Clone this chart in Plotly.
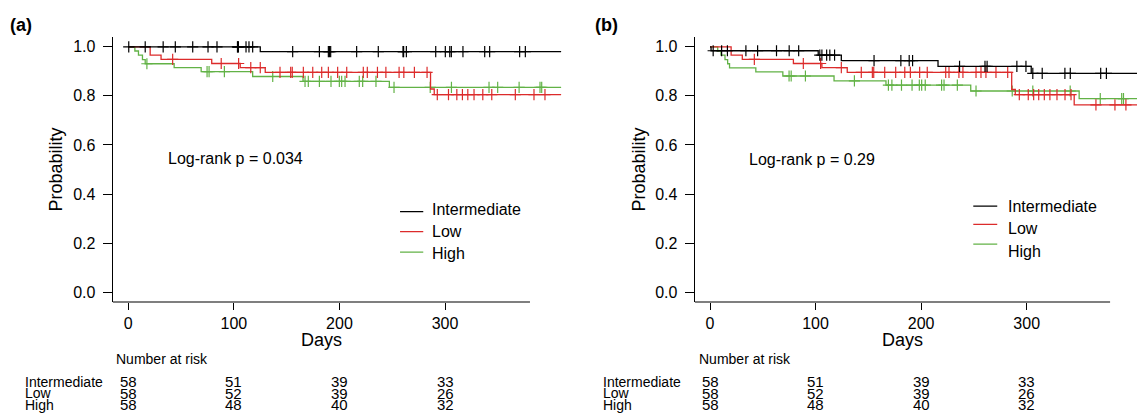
import numpy as np
import plotly.graph_objects as go

# ---------------- data ----------------
GROUPS = ["Intermediate", "Low", "High"]
COLORS = {"Intermediate": "#000000", "Low": "#DC2B2B", "High": "#62B246"}
END_DAY = 410

# Panel (a)
A_INT_T = [0, 125]
A_INT_S = [1.0, 0.980]
A_INT_CENS = [0.4, 16, 33, 44.5, 61, 75.5, 84, 103.4, 103.8, 104.3, 111.5, 114.3, 117.8,
              155.7, 181, 189.5, 190.5, 191.7, 216.3, 236.8, 260.2, 260.8, 263.4, 291.2,
              300.3, 304.5, 306, 317, 337.6, 342.3, 370.7, 376.1]
A_LOW_T = [0, 20.7, 31, 79, 106, 129.7, 286.3, 289.8]
A_LOW_S = [1.0, 0.966, 0.949, 0.932, 0.915, 0.896, 0.828, 0.805]
A_LOW_CENS = [42, 88, 104.5, 116, 125, 143.7, 153.8, 155.3, 165.8, 174.7, 183.2, 189.5,
              198.3, 206.9, 222.6, 226.4, 236, 244, 256.5, 261, 271, 283, 292.7, 303.3,
              311.2, 316.5, 321.6, 327.5, 335.8, 344.3, 366.6, 384.3, 394.7]
A_HIGH_T = [0, 6.2, 9.6, 13.4, 16, 43.4, 69, 117.8, 165.5, 247.3]
A_HIGH_S = [1.0, 0.983, 0.966, 0.948, 0.931, 0.915, 0.899, 0.879, 0.859, 0.835]
A_HIGH_CENS = [17.6, 74.6, 76.5, 91, 136.8, 167.4, 170.5, 181, 192, 199.9, 202.1, 205.3,
               218.8, 222, 234.6, 251.7, 286, 306.1, 341.7, 349.9, 370.2, 390, 391.6]

# Panel (b)
B_INT_T = [0, 1, 102.5, 124.4, 216, 304.3]
B_INT_S = [1.0, 0.984, 0.966, 0.944, 0.920, 0.892]
B_INT_CENS = [3, 11, 16.5, 34, 45.1, 63, 75, 84, 104, 106, 110.5, 113.5, 118, 155.4, 180.8,
              188.7, 191.9, 236.4, 260.5, 262.5, 290.7, 299.3, 305.8, 314.7, 336.2, 341.3,
              370.1, 375.5]
B_LOW_T = [0, 20, 30.6, 79, 106, 130, 285.8, 289.2, 345]
B_LOW_S = [1.0, 0.966, 0.949, 0.932, 0.915, 0.896, 0.826, 0.805, 0.763]
B_LOW_CENS = [42, 88.4, 104.8, 124.4, 143.3, 153.8, 155.1, 165.5, 175.9, 184.5, 189.8, 198.6,
              205.8, 223.3, 226.4, 235.8, 239.6, 252, 256.7, 261.4, 270.9, 282, 293, 301.5,
              306.6, 311.4, 316.7, 322, 328.7, 336.3, 342, 365.6, 383.6, 394]
B_HIGH_T = [0, 7.3, 10.4, 14.2, 16.7, 18.5, 43.4, 69, 117.5, 166.7, 247, 349.7]
B_HIGH_S = [1.0, 0.983, 0.966, 0.948, 0.931, 0.914, 0.898, 0.881, 0.861, 0.844, 0.820, 0.789]
B_HIGH_CENS = [74.9, 76.9, 90.4, 136.8, 169, 172.3, 181.4, 191.4, 198.3, 200.5, 203.9, 219.4,
               221.7, 234.3, 252, 286.3, 305.8, 341.2, 369.7, 390, 391.7]

# Number at risk (same table in both panels)
RISK_TIMES = [0, 100, 200, 300]
RISK_INT = [58, 51, 39, 33]
RISK_LOW = [58, 52, 39, 26]
RISK_HIGH = [58, 48, 40, 32]

X_TICKS = [0, 100, 200, 300]
Y_TICKS = [0.0, 0.2, 0.4, 0.6, 0.8, 1.0]
Y_TICKTEXT = ["0.0", "0.2", "0.4", "0.6", "0.8", "1.0"]
PVAL_A = "Log-rank p = 0.034"
PVAL_B = "Log-rank p = 0.29"

FONT = "Liberation Sans, Arial, sans-serif"

panels = [
    dict(xa="x", ya="y", label="(a)", pval=PVAL_A,
         curves={"Intermediate": (A_INT_T, A_INT_S, A_INT_CENS),
                 "Low": (A_LOW_T, A_LOW_S, A_LOW_CENS),
                 "High": (A_HIGH_T, A_HIGH_S, A_HIGH_CENS)}),
    dict(xa="x2", ya="y2", label="(b)", pval=PVAL_B,
         curves={"Intermediate": (B_INT_T, B_INT_S, B_INT_CENS),
                 "Low": (B_LOW_T, B_LOW_S, B_LOW_CENS),
                 "High": (B_HIGH_T, B_HIGH_S, B_HIGH_CENS)}),
]


def step_value(times, surv, t):
    idx = np.searchsorted(np.array(times), np.array(t), side="right") - 1
    return np.array(surv)[idx]


fig = go.Figure()
for p in panels:
    for g in ["High", "Low", "Intermediate"]:
        t, s, c = p["curves"][g]
        fig.add_trace(go.Scatter(
            x=list(t) + [END_DAY], y=list(s) + [s[-1]], mode="lines",
            line=dict(color=COLORS[g], width=1.3, shape="hv"),
            xaxis=p["xa"], yaxis=p["ya"], showlegend=False, hoverinfo="skip"))
        fig.add_trace(go.Scatter(
            x=c, y=step_value(t, s, c), mode="markers",
            marker=dict(symbol="cross-thin", size=8, line=dict(color=COLORS[g], width=1.2)),
            xaxis=p["xa"], yaxis=p["ya"], showlegend=False, hoverinfo="skip"))

# plot area geometry (figure px: 1137 x 420)
W, H = 1137, 420
T_M, B_M = 37, 118
PLOT_H = H - T_M - B_M


def py2paper(py):
    return (H - B_M - py) / PLOT_H


axis_common = dict(showgrid=False, zeroline=False, ticks="outside", tickcolor="black",
                   tickwidth=1.2, tickfont=dict(size=16, color="black", family=FONT))
ycommon = dict(axis_common, range=[-0.04, 1.04], tickvals=Y_TICKS, ticktext=Y_TICKTEXT,
               ticklen=9, showline=True, linecolor="black", linewidth=1.2,
               ticklabelstandoff=4)
xcommon = dict(axis_common, tickvals=X_TICKS, ticklen=7, showline=False)

fig.update_layout(
    width=W, height=H, margin=dict(l=0, r=0, t=T_M, b=B_M),
    paper_bgcolor="white", plot_bgcolor="white",
    font=dict(family=FONT, color="black"),
    xaxis=dict(xcommon, domain=[112.7 / W, 566.4 / W], range=[-14.8, 415], anchor="y"),
    yaxis=dict(ycommon, domain=[0, 1], anchor="x"),
    xaxis2=dict(xcommon, domain=[694.7 / W, 1.0], range=[-14.5, 404.5], anchor="y2"),
    yaxis2=dict(ycommon, domain=[0, 1], anchor="x2"),
)

shapes = []
annotations = []
panel_geo = [
    dict(xref="x", yref="y", axis_x=(-14.8, 380.5), days_x=183, prob_px=55, label_px=8,
         risk_lab_px=23, nar_px=113.6, p_xy=(35.7, 0.546),
         leg_line=(257.4, 279.4), leg_line_y=[0.328, 0.247, 0.163],
         leg_text_x=285.8, leg_text_y=[0.335, 0.247, 0.156]),
    dict(xref="x2", yref="y2", axis_x=(-14.5, 379), days_x=182, prob_px=638, label_px=593,
         risk_lab_px=601, nar_px=697, p_xy=(34.8, 0.539),
         leg_line=(249.4, 272.1), leg_line_y=[0.351, 0.276, 0.196],
         leg_text_x=280.4, leg_text_y=[0.348, 0.259, 0.167]),
]
risk_rows = {"Intermediate": RISK_INT, "Low": RISK_LOW, "High": RISK_HIGH}
row_py = {"Intermediate": 381.5, "Low": 393.0, "High": 404.5}

for p, geo in zip(panels, panel_geo):
    xr, yr = geo["xref"], geo["yref"]
    # bottom axis line (stops short of curve end, as in reference)
    shapes.append(dict(type="line", xref=xr, yref="paper", x0=geo["axis_x"][0],
                       x1=geo["axis_x"][1], y0=0, y1=0,
                       line=dict(color="black", width=1.2)))
    annotations.append(dict(text="Days", xref=xr, yref="paper", x=geo["days_x"],
                            y=py2paper(340), showarrow=False, xanchor="center",
                            yanchor="middle", font=dict(size=18)))
    annotations.append(dict(text="Probability", xref="paper", yref="paper",
                            x=geo["prob_px"] / W, y=0.5, textangle=-90, showarrow=False,
                            xanchor="center", yanchor="middle", font=dict(size=18)))
    annotations.append(dict(text="<b>" + p["label"] + "</b>", xref="paper", yref="paper",
                            x=geo["label_px"] / W, y=py2paper(25), showarrow=False,
                            xanchor="left", yanchor="middle", font=dict(size=18)))
    annotations.append(dict(text=p["pval"], xref=xr, yref=yr, x=geo["p_xy"][0],
                            y=geo["p_xy"][1], showarrow=False, xanchor="left",
                            yanchor="middle", font=dict(size=16)))
    for i, g in enumerate(GROUPS):
        shapes.append(dict(type="line", xref=xr, yref=yr, x0=geo["leg_line"][0],
                           x1=geo["leg_line"][1], y0=geo["leg_line_y"][i],
                           y1=geo["leg_line_y"][i], line=dict(color=COLORS[g], width=1.3)))
        annotations.append(dict(text=g, xref=xr, yref=yr, x=geo["leg_text_x"],
                                y=geo["leg_text_y"][i], showarrow=False, xanchor="left",
                                yanchor="middle", font=dict(size=16)))
    annotations.append(dict(text="Number at risk", xref="paper", yref="paper",
                            x=geo["nar_px"] / W, y=py2paper(359.3), showarrow=False,
                            xanchor="left", yanchor="middle", font=dict(size=14)))
    for g in GROUPS:
        annotations.append(dict(text=g, xref="paper", yref="paper",
                                x=geo["risk_lab_px"] / W, y=py2paper(row_py[g]),
                                showarrow=False, xanchor="left", yanchor="middle",
                                font=dict(size=14)))
        for tt, n in zip(RISK_TIMES, risk_rows[g]):
            annotations.append(dict(text=str(n), xref=xr, yref="paper", x=tt,
                                    y=py2paper(row_py[g]), showarrow=False,
                                    xanchor="center", yanchor="middle",
                                    font=dict(size=15)))

fig.update_layout(shapes=shapes, annotations=annotations)
fig.write_html("out.html", config={"displayModeBar": False},
               post_script="document.body.style.margin='0px';document.body.style.padding='0px';")
